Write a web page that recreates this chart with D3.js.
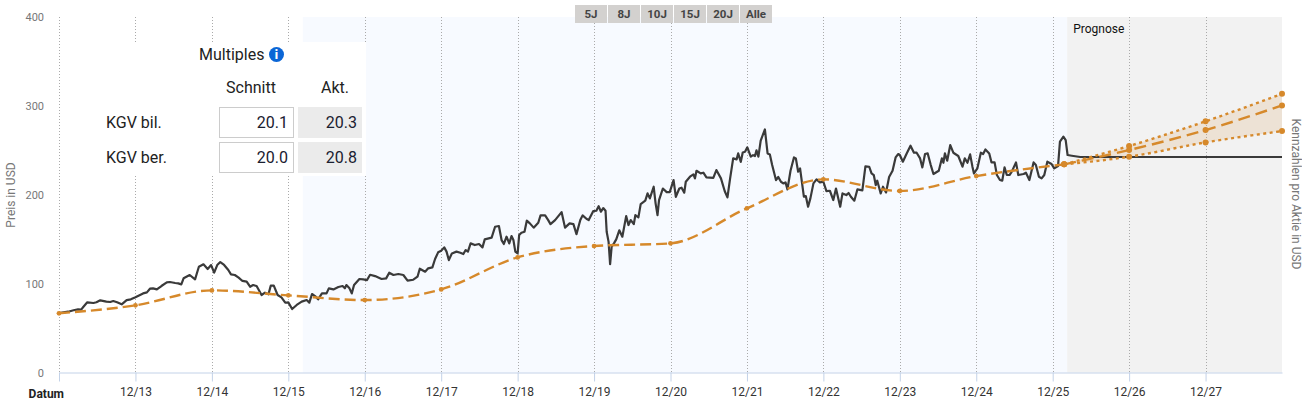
<!DOCTYPE html>
<html>
<head>
<meta charset="utf-8">
<script src="https://cdn.jsdelivr.net/npm/d3@7"></script>
<style>
    body { margin: 0; background: #fff; }
    svg { display: block; font-family: Roboto, sans-serif; }
</style>
</head>
<body>
<div id="chart"></div>
<script>
// data, time is given in years where 2013 means the 12/13 tick
const yearTicks = d3.range(2013, 2028);
const valueTicks = [0, 100, 200, 300, 400];
const rangeButtons = ["5J", "8J", "10J", "15J", "20J", "Alle"];
const historyBand = [2015.19, 2025.19];
const forecastBand = [2025.19, 2028];

const pricePoints = [
    [2012.00,66.6],[2012.04,67.3],[2012.12,68.4],[2012.19,70],[2012.25,71],[2012.29,70.7],[2012.32,74],[2012.37,79],[2012.45,78.2],[2012.49,79],
    [2012.54,81.2],[2012.62,79.7],[2012.67,79.3],[2012.71,80.4],[2012.76,79],[2012.82,76.7],[2012.885,81.5],[2012.94,82.3],[2013.00,84.6],
    [2013.06,87.2],[2013.10,89],[2013.15,90.2],[2013.19,94.3],[2013.23,94.7],[2013.28,93.5],[2013.34,97.3],[2013.41,101.4],[2013.45,101.8],[2013.52,100.7],
    [2013.56,100.3],[2013.60,99.2],[2013.63,106],[2013.71,109.7],[2013.78,104.8],[2013.81,113.4],[2013.83,119],[2013.89,121.7],[2013.945,116.4],[2013.99,120.9],
    [2014.03,112.3],[2014.07,120.9],[2014.11,124.3],[2014.16,121],[2014.215,115.3],[2014.25,110.4],[2014.30,109.7],[2014.35,106.7],[2014.40,103],[2014.455,102.2],
    [2014.50,96.5],[2014.54,98.4],[2014.585,97.3],[2014.65,87.2],[2014.695,89.8],[2014.74,87.9],[2014.77,97.7],[2014.81,97.7],[2014.86,87.2],[2014.91,84.5],[2014.96,78.5],
    [2015.00,78.9],[2015.05,71.4],[2015.11,76],[2015.175,79.7],[2015.24,81.5],[2015.275,78.6],[2015.31,88.3],[2015.35,86],[2015.39,82.3],[2015.44,89],[2015.50,89],
    [2015.53,94.7],[2015.59,93.5],[2015.655,96.2],[2015.71,97.3],[2015.74,94.7],[2015.76,98.4],[2015.80,94.7],[2015.83,89],[2015.86,98.4],[2015.93,105.2],[2015.98,104.8],
    [2016.03,104],[2016.07,110],[2016.135,108.5],[2016.22,105.2],[2016.28,105.9],[2016.32,112.3],[2016.375,109.7],[2016.44,110.8],[2016.505,109.7],[2016.56,103.3],
    [2016.635,104.4],[2016.69,107.8],[2016.72,116.8],[2016.79,113.4],[2016.83,117.2],[2016.885,118.3],[2016.92,127.7],[2016.96,135.2],[2017.00,137],
    [2017.04,140.8],[2017.07,136],[2017.10,126.5],[2017.14,134],[2017.20,136],[2017.25,134.8],[2017.29,133.3],[2017.32,137.8],[2017.35,136],[2017.385,145.3],[2017.44,143.4],
    [2017.495,144.6],[2017.54,140.8],[2017.57,149.8],[2017.66,151.7],[2017.705,164],[2017.755,164.8],[2017.79,149],[2017.82,144.6],[2017.855,152.8],[2017.89,145.3],[2017.92,153.5],
    [2017.945,149],[2017.97,136],[2018.00,134],[2018.02,154.7],[2018.05,157.3],[2018.09,158.4],[2018.12,170.8],[2018.16,167.8],[2018.21,163],[2018.27,168.5],[2018.30,176.8],
    [2018.36,176.8],[2018.40,171.5],[2018.43,167],[2018.49,171.5],[2018.575,180.5],[2018.62,163],[2018.68,167.8],[2018.73,167],[2018.77,155.7],[2018.82,171.5],[2018.85,176.8],
    [2018.90,173],[2018.93,171.5],[2018.99,181.6],[2019.03,182],[2019.06,187.2],[2019.09,180.9],[2019.12,185],[2019.15,182],[2019.165,158.4],[2019.19,147],[2019.21,122],
    [2019.23,141.5],[2019.26,145.3],[2019.29,149.8],[2019.33,160],[2019.37,152.8],[2019.42,176],[2019.45,165.9],[2019.48,171.5],[2019.52,167],[2019.54,177],[2019.58,174.5],
    [2019.61,189.5],[2019.67,193.3],[2019.70,201.5],[2019.73,195.9],[2019.78,209],[2019.805,190.3],[2019.83,177],[2019.85,194],[2019.90,207],[2019.95,203],[2019.99,203],
    [2020.04,216.5],[2020.07,197.7],[2020.115,207],[2020.145,207.9],[2020.18,202.3],[2020.20,214.6],[2020.255,220.3],[2020.30,222.9],[2020.32,218.4],[2020.34,227],[2020.395,224],
    [2020.43,224.8],[2020.47,219.5],[2020.56,219],[2020.60,227.8],[2020.66,218.4],[2020.71,204],[2020.745,197],[2020.78,218.4],[2020.82,240.9],[2020.865,239.8],[2020.885,246.5],
    [2020.92,237],[2020.945,247.6],[2020.975,248.4],[2021.005,253.3],[2021.05,242.8],[2021.08,244.6],[2021.105,243.5],[2021.125,250],[2021.15,242.8],[2021.18,260.8],[2021.235,273.5],
    [2021.27,246.5],[2021.30,245.4],[2021.33,233.4],[2021.38,216.5],[2021.41,220],[2021.445,214.6],[2021.475,212.8],[2021.505,213.9],[2021.53,206],[2021.57,227],[2021.615,242],
    [2021.64,240.9],[2021.67,225.9],[2021.695,229.6],[2021.745,197.8],[2021.77,198.5],[2021.80,186.5],[2021.83,195.9],[2021.87,212.8],[2021.91,217.3],[2021.955,213.9],[2022.00,214.6],
    [2022.04,204],[2022.085,204.5],[2022.13,194],[2022.165,207],[2022.22,186.5],[2022.25,201.5],[2022.30,199.6],[2022.33,202],[2022.36,197.8],[2022.405,193.3],[2022.445,206],
    [2022.51,205],[2022.55,232],[2022.60,231.5],[2022.63,224],[2022.66,222],[2022.685,210.9],[2022.705,215.8],[2022.75,201.5],[2022.78,209],[2022.82,202.6],[2022.86,220],
    [2022.905,227],[2022.945,242],[2022.98,245.8],[2023.00,244.7],[2023.04,237.2],[2023.09,246.5],[2023.14,255.2],[2023.185,247.3],[2023.22,247.3],[2023.265,240.9],[2023.295,230.8],
    [2023.33,245.8],[2023.365,246.5],[2023.405,233.4],[2023.44,223.3],[2023.51,227],[2023.55,240.9],[2023.57,236],[2023.59,246.5],[2023.62,238.3],[2023.66,255.9],[2023.70,247.3],
    [2023.765,243.6],[2023.82,231.6],[2023.85,240.9],[2023.885,236],[2023.92,245.4],[2023.95,231.6],[2023.97,224],[2024.015,229.7],[2024.06,247.3],[2024.09,245.8],[2024.12,251],
    [2024.17,246.5],[2024.20,236.4],[2024.24,236.4],[2024.27,222.2],[2024.31,216.6],[2024.34,215.8],[2024.37,230.8],[2024.40,222.2],[2024.435,222.2],[2024.465,226],[2024.52,236.4],
    [2024.55,222.2],[2024.62,223.3],[2024.65,224.8],[2024.695,216.6],[2024.75,236.4],[2024.78,233.4],[2024.82,220.3],[2024.855,218.4],[2024.89,222.2],[2024.93,237.2],[2024.985,234.6],
    [2025.02,229.7],[2025.07,232.3],[2025.095,259.7],[2025.14,265.3],[2025.17,261.5],[2025.195,244.7],[2025.25,243.9],[2025.36,242.5],[2028,242.5]
];

const earningsYears = [2012, 2013, 2014, 2015, 2016, 2017, 2018, 2019, 2020, 2021, 2022, 2023, 2024, 2025.15];
const earningsValues = [66.6, 75.6, 92.4, 86.8, 81.5, 93.5, 129.5, 142.3, 145.3, 184.7, 217.3, 204.2, 221, 234.2];

const forecastYears = [2025.15, 2026, 2027, 2028];
const forecastHigh = [234.2, 254.8, 282.6, 313.6];
const forecastMid = [234.2, 250.3, 272.8, 300.5];
const forecastLow = [234.2, 242.8, 258.9, 271.6];

const multipleRows = ["KGV bil.", "KGV ber."];
const multipleAvg = ["20.1", "20.0"];
const multipleCur = ["20.3", "20.8"];

// set dimensions
const width = 1302,
    height = 406,
    margin = {
        top: 17,
        right: 20,
        bottom: 33.5,
        left: 59
    };
const orange = "#d6892b";

// create svg
const svg = d3.select("#chart")
    .append("svg")
    .attr("width", width)
    .attr("height", height);

// create scales
const xScale = d3.scaleLinear()
    .domain([2012, 2028])
    .range([margin.left, width - margin.right]);

const yScale = d3.scaleLinear()
    .domain([0, 400])
    .range([height - margin.bottom, margin.top]);

const plotBottom = yScale(0);

// background bands
svg.append("rect")
    .attr("x", xScale(historyBand[0]))
    .attr("y", margin.top)
    .attr("width", xScale(historyBand[1]) - xScale(historyBand[0]))
    .attr("height", plotBottom - margin.top)
    .attr("fill", "#f7faff");

svg.append("rect")
    .attr("x", xScale(forecastBand[0]))
    .attr("y", margin.top)
    .attr("width", xScale(forecastBand[1]) - xScale(forecastBand[0]))
    .attr("height", plotBottom - margin.top)
    .attr("fill", "#f2f2f2");

// dotted grid lines
svg.selectAll(".grid")
    .data([2012].concat(yearTicks))
    .enter()
    .append("line")
    .attr("class", "grid")
    .attr("x1", d => Math.round(xScale(d)) + 0.5)
    .attr("x2", d => Math.round(xScale(d)) + 0.5)
    .attr("y1", margin.top)
    .attr("y2", plotBottom)
    .attr("stroke", "#aaa")
    .attr("stroke-dasharray", "1,2");

// axes
const xAxis = d3.axisBottom(xScale)
    .tickValues([2012].concat(yearTicks))
    .tickSize(9)
    .tickSizeOuter(0)
    .tickPadding(6)
    .tickFormat(d => d === 2012 ? "" : "12/" + String(d).slice(2));

const yAxis = d3.axisLeft(yScale)
    .tickValues(valueTicks)
    .tickSize(0)
    .tickPadding(15);

const xGroup = svg.append("g")
    .attr("transform", "translate(0," + plotBottom + ")")
    .call(xAxis);
xGroup.select(".domain").attr("stroke", "#c3d2e8");
xGroup.selectAll("line").attr("stroke", "#c3d2e8");
xGroup.selectAll("text")
    .attr("fill", "#333")
    .style("font-size", "12px")
    .style("font-family", "Roboto, sans-serif");

const yGroup = svg.append("g")
    .attr("transform", "translate(" + margin.left + ",0)")
    .call(yAxis);
yGroup.select(".domain").remove();
yGroup.selectAll("text")
    .attr("fill", "#777")
    .style("font-size", "11px")
    .style("font-family", "Roboto, sans-serif");

svg.append("text")
    .attr("x", 64)
    .attr("y", 398)
    .attr("text-anchor", "end")
    .attr("font-size", 12)
    .attr("font-weight", 700)
    .attr("fill", "#222")
    .text("Datum");

// axis titles
svg.append("text")
    .attr("transform", "translate(15,195) rotate(-90)")
    .attr("text-anchor", "middle")
    .attr("font-size", 12)
    .attr("fill", "#777")
    .text("Preis in USD");

svg.append("text")
    .attr("transform", "translate(1292,194) rotate(90)")
    .attr("text-anchor", "middle")
    .attr("font-size", 12)
    .attr("fill", "#777")
    .text("Kennzahlen pro Aktie in USD");

svg.append("text")
    .attr("x", xScale(forecastBand[0]) + 6)
    .attr("y", 33)
    .attr("font-size", 12)
    .attr("fill", "#111")
    .text("Prognose");

// forecast area
const area = d3.area()
    .x((d, i) => xScale(forecastYears[i]))
    .y0((d, i) => yScale(forecastLow[i]))
    .y1(d => yScale(d))
    .curve(d3.curveMonotoneX);

svg.append("path")
    .attr("d", area(forecastHigh))
    .attr("fill", orange)
    .attr("fill-opacity", 0.14);

// price line
const priceLine = d3.line()
    .x(d => xScale(d[0]))
    .y(d => yScale(d[1]));

svg.append("path")
    .attr("d", priceLine(pricePoints))
    .attr("fill", "none")
    .attr("stroke", "#3a3a3a")
    .attr("stroke-width", 2.2)
    .attr("stroke-linejoin", "round");

// earnings lines
const seriesLine = years => d3.line()
    .x((d, i) => xScale(years[i]))
    .y(d => yScale(d))
    .curve(d3.curveMonotoneX);

const orangeSeries = [
    {years: earningsYears, values: earningsValues, dash: "11,5", r: 2.4},
    {years: forecastYears, values: forecastMid, dash: "12,6", r: 3},
    {years: forecastYears, values: forecastHigh, dash: "3,3.5", r: 3},
    {years: forecastYears, values: forecastLow, dash: "3,3.5", r: 3}
];

orangeSeries.forEach(s => {
    svg.append("path")
        .attr("d", seriesLine(s.years)(s.values))
        .attr("fill", "none")
        .attr("stroke", orange)
        .attr("stroke-width", 2.4)
        .attr("stroke-dasharray", s.dash);

    svg.append("g")
        .selectAll("circle")
        .data(s.values)
        .enter()
        .append("circle")
        .attr("cx", (d, i) => xScale(s.years[i]))
        .attr("cy", d => yScale(d))
        .attr("r", s.r)
        .attr("fill", orange);
});

// range buttons
const buttons = svg.append("g")
    .selectAll("g")
    .data(rangeButtons)
    .enter()
    .append("g")
    .attr("transform", (d, i) => `translate(${575 + i * 33},5)`);

buttons.append("rect")
    .attr("width", 32)
    .attr("height", 18)
    .attr("fill", "#d3d1cf");

buttons.append("text")
    .attr("x", 16)
    .attr("y", 13)
    .attr("text-anchor", "middle")
    .attr("font-size", 11.5)
    .attr("font-weight", 700)
    .attr("fill", "#444")
    .text(d => d);

// multiples box
const box = svg.append("g");

box.append("rect")
    .attr("x", 64)
    .attr("y", 42)
    .attr("width", 302)
    .attr("height", 134)
    .attr("fill", "#fff");

box.append("text")
    .attr("x", 199)
    .attr("y", 60)
    .attr("font-size", 16)
    .attr("fill", "#222")
    .text("Multiples");

box.append("circle")
    .attr("cx", 276.5)
    .attr("cy", 54.5)
    .attr("r", 7.5)
    .attr("fill", "#0b66d6");

box.append("text")
    .attr("x", 276.5)
    .attr("y", 59)
    .attr("text-anchor", "middle")
    .attr("font-size", 12)
    .attr("font-weight", 900)
    .attr("fill", "#fff")
    .text("i");

box.append("text")
    .attr("x", 251)
    .attr("y", 93)
    .attr("text-anchor", "middle")
    .attr("font-size", 16)
    .attr("fill", "#222")
    .text("Schnitt");

box.append("text")
    .attr("x", 335)
    .attr("y", 93)
    .attr("text-anchor", "middle")
    .attr("font-size", 16)
    .attr("fill", "#222")
    .text("Akt.");

multipleRows.forEach((row, i) => {
    const top = 107.5 + i * 35;

    box.append("text")
        .attr("x", 106)
        .attr("y", top + 20)
        .attr("font-size", 16)
        .attr("fill", "#222")
        .text(row);

    box.append("rect")
        .attr("x", 219.5)
        .attr("y", top)
        .attr("width", 74)
        .attr("height", 30)
        .attr("fill", "#fff")
        .attr("stroke", "#ccc");

    box.append("text")
        .attr("x", 288)
        .attr("y", top + 20.5)
        .attr("text-anchor", "end")
        .attr("font-size", 16)
        .attr("fill", "#1a2030")
        .text(multipleAvg[i]);

    box.append("rect")
        .attr("x", 298)
        .attr("y", top - 0.5)
        .attr("width", 64)
        .attr("height", 31)
        .attr("fill", "#ebebeb");

    box.append("text")
        .attr("x", 357)
        .attr("y", top + 20.5)
        .attr("text-anchor", "end")
        .attr("font-size", 16)
        .attr("fill", "#1a2030")
        .text(multipleCur[i]);
});
</script>
</body>
</html>
